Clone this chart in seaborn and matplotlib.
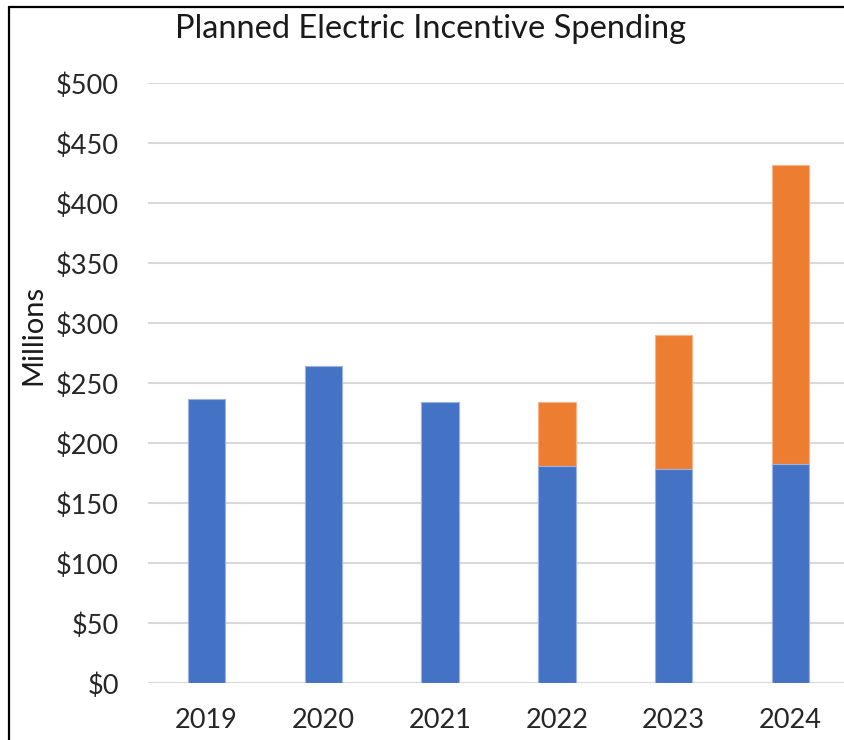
import matplotlib
matplotlib.use("Agg")
import matplotlib.pyplot as plt
from matplotlib.lines import Line2D
import numpy as np
import pandas as pd
import seaborn as sns

years = ["2019", "2020", "2021", "2022", "2023", "2024"]
base_spend = [237, 264, 234, 181, 179, 183]
added_spend = [0, 0, 0, 53, 111, 249]
y_ticks = [0, 50, 100, 150, 200, 250, 300, 350, 400, 450, 500]

blue = "#4472C4"
orange = "#ED7D31"

df = pd.DataFrame({"year": years, "base": base_spend, "added": added_spend})
df["total"] = df["base"] + df["added"]

sns.set_style("white")
plt.rcParams["font.family"] = ["Lato", "DejaVu Sans"]

fig = plt.figure(figsize=(8.45, 7.40), dpi=100)
ax = fig.add_axes([148 / 845, 56.7 / 740, 701 / 845, 600 / 740])

# stacked look: draw totals in orange, then the base part in blue over it
sns.barplot(data=df, x="year", y="total", color=orange, saturation=1, width=0.32,
            edgecolor="#f5b48a", linewidth=0.8, ax=ax, zorder=3)
sns.barplot(data=df, x="year", y="base", color=blue, saturation=1, width=0.32,
            edgecolor="#9db3e0", linewidth=0.8, ax=ax, zorder=3)

ax.set_ylim(0, 500)
ax.set_xlim(-0.5, 5.5)
ax.set_yticks(y_ticks)
ax.set_yticklabels(["$" + str(v) for v in y_ticks])
ax.yaxis.grid(True, color="#D9D9D9", linewidth=1.5, zorder=0)
ax.set_axisbelow(True)
for s in ax.spines.values():
    s.set_visible(False)
ax.tick_params(axis="y", length=0, pad=21, labelsize=19.5, labelcolor="#262626")
ax.tick_params(axis="x", length=0, pad=18, labelsize=19.5, labelcolor="#262626")
ax.set_xlabel("")
ax.set_ylabel("")

fig.text(431 / 845, 1 - 29 / 740, "Planned Electric Incentive Spending",
         ha="center", va="center", fontsize=23.5, color="#1a1a1a")
fig.text(33 / 845, 1 - 335 / 740, "Millions", rotation=90,
         ha="center", va="center", fontsize=21, color="#1a1a1a")

# chart border (left and top visible in the crop)
fig.add_artist(Line2D([9 / 845, 9 / 845], [0, 1 - 6.5 / 740], color="black", linewidth=1.6,
                      transform=fig.transFigure))
fig.add_artist(Line2D([9 / 845, 1], [1 - 6.5 / 740, 1 - 6.5 / 740], color="black", linewidth=1.6,
                      transform=fig.transFigure))

fig.savefig("out.png", dpi=100)
